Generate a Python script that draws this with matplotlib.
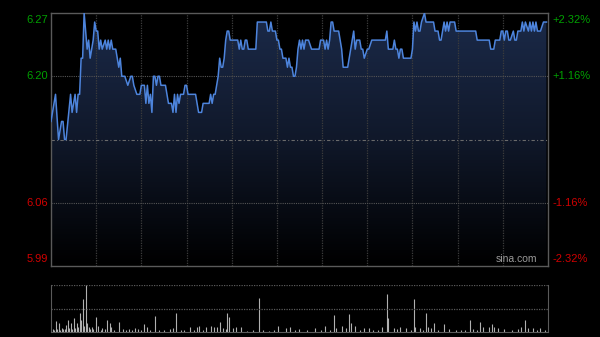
import numpy as np
import matplotlib
matplotlib.use("Agg")
import matplotlib.pyplot as plt
from matplotlib.colors import LinearSegmentedColormap

# minutes since open (HK session, 330 trading minutes) and price
minutes = [0, 3, 5, 7, 8, 9, 10, 13, 14, 16, 17, 18, 19, 20, 21, 22, 24, 25, 26, 28,
           29, 30, 31, 32, 33, 34, 36, 37, 38, 39, 40, 41, 43, 45, 46, 47, 49, 51, 53, 54,
           55, 57, 59, 60, 62, 63, 64, 65, 66, 67, 68, 69, 70, 71, 72, 73, 76, 77, 78, 80,
           81, 82, 83, 84, 85, 86, 88, 89, 90, 91, 94, 96, 97, 98, 100, 101, 104, 105, 106, 107,
           108, 109, 110, 111, 112, 113, 114, 115, 116, 117, 118, 119, 122, 124, 125, 126, 127, 128, 129, 130,
           131, 136, 137, 139, 143, 144, 145, 146, 147, 149, 150, 151, 152, 153, 154, 156, 157, 158, 159, 160,
           161, 162, 163, 164, 165, 166, 167, 168, 169, 171, 173, 178, 179, 181, 182, 183, 184, 185, 186, 187,
           188, 190, 191, 193, 194, 197, 199, 200, 201, 202, 203, 205, 206, 207, 208, 210, 211, 213, 222, 223,
           224, 227, 228, 229, 230, 231, 232, 233, 234, 239, 240, 241, 242, 243, 244, 245, 246, 248, 249, 254,
           255, 257, 258, 259, 261, 262, 263, 264, 265, 268, 269, 282, 283, 291, 292, 294, 295, 298, 299, 300,
           301, 302, 303, 304, 305, 307, 308, 309, 310, 312, 313, 314, 315, 317, 318, 319, 320, 321, 322, 323,
           325, 327, 329]
prices = [6.15, 6.18, 6.13, 6.15, 6.15, 6.13, 6.13, 6.18, 6.16, 6.18, 6.16, 6.18, 6.18, 6.22, 6.22, 6.27, 6.23, 6.24, 6.22, 6.24,
          6.26, 6.25, 6.25, 6.23, 6.24, 6.23, 6.24, 6.23, 6.24, 6.23, 6.24, 6.23, 6.23, 6.21, 6.22, 6.20, 6.20, 6.19, 6.20, 6.20,
          6.19, 6.18, 6.18, 6.19, 6.19, 6.17, 6.19, 6.17, 6.18, 6.16, 6.20, 6.20, 6.19, 6.20, 6.20, 6.19, 6.19, 6.18, 6.17, 6.17,
          6.16, 6.18, 6.16, 6.18, 6.17, 6.18, 6.18, 6.19, 6.19, 6.18, 6.18, 6.18, 6.17, 6.16, 6.16, 6.17, 6.17, 6.17, 6.18, 6.17,
          6.18, 6.18, 6.19, 6.20, 6.22, 6.21, 6.21, 6.22, 6.24, 6.25, 6.25, 6.24, 6.24, 6.24, 6.23, 6.24, 6.23, 6.23, 6.24, 6.24,
          6.23, 6.23, 6.26, 6.26, 6.26, 6.25, 6.25, 6.26, 6.25, 6.25, 6.24, 6.24, 6.23, 6.23, 6.22, 6.22, 6.21, 6.22, 6.21, 6.21,
          6.20, 6.20, 6.21, 6.23, 6.24, 6.23, 6.24, 6.23, 6.24, 6.24, 6.23, 6.23, 6.24, 6.24, 6.23, 6.24, 6.23, 6.24, 6.26, 6.26,
          6.25, 6.25, 6.25, 6.23, 6.21, 6.21, 6.23, 6.24, 6.25, 6.23, 6.24, 6.24, 6.23, 6.23, 6.22, 6.23, 6.23, 6.24, 6.24, 6.25,
          6.23, 6.23, 6.24, 6.23, 6.23, 6.22, 6.23, 6.23, 6.22, 6.22, 6.23, 6.26, 6.25, 6.26, 6.25, 6.25, 6.26, 6.27, 6.26, 6.26,
          6.25, 6.25, 6.24, 6.24, 6.26, 6.25, 6.26, 6.25, 6.26, 6.26, 6.25, 6.25, 6.24, 6.24, 6.23, 6.23, 6.24, 6.24, 6.25, 6.25,
          6.24, 6.25, 6.25, 6.24, 6.24, 6.25, 6.24, 6.24, 6.25, 6.25, 6.26, 6.25, 6.26, 6.25, 6.26, 6.25, 6.26, 6.25, 6.26, 6.25,
          6.25, 6.26, 6.26]

# volume bars (minute, relative volume)
vol_minutes = [1, 2, 3, 4, 5, 6, 7, 8, 9, 10, 11, 12, 13, 14, 15, 16, 17, 18, 19, 20,
               21, 22, 23, 24, 25, 26, 27, 28, 30, 31, 33, 34, 36, 37, 39, 40, 42, 45, 48, 50,
               52, 54, 56, 58, 60, 62, 64, 66, 69, 72, 75, 79, 81, 83, 86, 88, 92, 95, 97, 98,
               101, 103, 106, 108, 110, 112, 114, 116, 117, 118, 121, 123, 126, 130, 134, 138, 141, 145, 148, 151,
               156, 159, 162, 165, 170, 175, 179, 182, 185, 188, 189, 193, 196, 198, 199, 202, 205, 208, 211, 214,
               217, 220, 223, 224, 228, 230, 232, 236, 239, 241, 242, 245, 247, 249, 250, 252, 254, 257, 261, 264,
               269, 272, 275, 278, 280, 283, 285, 287, 291, 293, 294, 297, 301, 306, 310, 312, 315, 317, 320, 323,
               325, 328]
volumes = [3, 2, 11, 3, 9, 2, 4, 3, 3, 7, 12, 4, 9, 3, 14, 4, 9, 5, 19, 12,
           33, 6, 47, 9, 5, 3, 5, 3, 15, 6, 2, 4, 3, 12, 9, 5, 2, 10, 3, 2,
           3, 2, 4, 3, 2, 8, 5, 2, 16, 2, 2, 3, 4, 19, 2, 2, 5, 2, 5, 6,
           2, 5, 6, 5, 5, 10, 4, 3, 19, 15, 4, 5, 5, 1, 2, 34, 2, 1, 2, 6,
           4, 5, 2, 3, 2, 4, 2, 6, 2, 17, 4, 6, 4, 18, 9, 6, 2, 4, 4, 2,
           2, 5, 38, 14, 4, 3, 5, 4, 2, 33, 5, 4, 2, 19, 5, 4, 9, 2, 8, 3,
           2, 2, 2, 12, 3, 2, 10, 5, 5, 8, 5, 4, 3, 2, 3, 5, 12, 4, 4, 2,
           4, 2]

prev_close = 6.13
left_ticks = [6.27, 6.20, 6.06, 5.99]
right_labels = ["+2.32%", "+1.16%", "-1.16%", "-2.32%"]
tick_colors = ["#00a000", "#00a000", "#d00000", "#d00000"]

plt.rcParams['font.family'] = ['Liberation Sans', 'DejaVu Sans']

fig = plt.figure(figsize=(6, 3.37), dpi=100, facecolor="black")
ax = fig.add_axes([0.085, 0.2107, 0.8283, 0.7507], facecolor="black")
axv = fig.add_axes([0.085, 0.0148, 0.8283, 0.1395], facecolor="black")

ymin, ymax = 5.99, 6.27
ax.set_xlim(0, 330)
ax.set_ylim(ymin, ymax)

# gradient fill under the price line
cmap = LinearSegmentedColormap.from_list("fill", ["#000000", "#10182a", "#1b2a49"])
grad = np.linspace(0, 1, 256).reshape(-1, 1)
img = ax.imshow(grad, cmap=cmap, aspect="auto", origin="lower",
                extent=[0, 330, ymin, ymax], zorder=1)
poly = ax.fill_between(minutes, prices, ymin, color="none", lw=0)
img.set_clip_path(poly.get_paths()[0], transform=ax.transData)

# grid
for m in range(30, 330, 30):
    ax.axvline(m, color="#3c3c3c", lw=0.9, ls=(0, (1, 1)), zorder=2)
for y in [6.20, 6.06]:
    ax.axhline(y, color="#555555", lw=0.8, ls=(0, (1, 1)), zorder=2)
ax.axhline(prev_close, color="#6a6a6a", lw=0.8, ls=(0, (3, 2, 1, 2)), zorder=2)

ax.plot(minutes, prices, color="#4d84dc", lw=1.1, zorder=3)

for s in ax.spines.values():
    s.set_color("#5a5a5a")
    s.set_linewidth(1)
ax.set_xticks([])
ax.set_yticks([])

# axis labels
for val, rl, c in zip(left_ticks, right_labels, tick_colors):
    if val == ymax:
        va, dy = "top", -1.5
    elif val == ymin:
        va, dy = "bottom", 1.5
    else:
        va, dy = "center", 0
    ax.annotate(f"{val:.2f}", xy=(0, val), xycoords=("axes fraction", "data"),
                xytext=(-2.5, dy), textcoords="offset points", ha="right", va=va,
                color=c, fontsize=8)
    ax.annotate(rl, xy=(1, val), xycoords=("axes fraction", "data"),
                xytext=(3.5, dy), textcoords="offset points", ha="left", va=va,
                color=c, fontsize=8)

ax.text(0.978, 0.008, "sina.com", transform=ax.transAxes, ha="right", va="bottom",
        color="#9a9a9a", fontsize=7.5, zorder=4)

# volume panel
axv.set_xlim(0, 330)
axv.set_ylim(0, max(volumes) * 1.01)
axv.vlines(vol_minutes, 0, volumes, color="#b0b0b0", lw=0.8)
axv.axhline(max(volumes) * 1.01, color="#5a5a5a", lw=0.9, ls=(0, (1, 1)))
axv.axhline(max(volumes) / 2, color="#5a5a5a", lw=0.9, ls=(0, (1, 1)))
axv.spines["top"].set_visible(False)
for side in ["left", "right", "bottom"]:
    axv.spines[side].set_color("#5a5a5a")
axv.set_xticks([])
axv.set_yticks([])

fig.savefig("out.png", dpi=100, facecolor="black")
